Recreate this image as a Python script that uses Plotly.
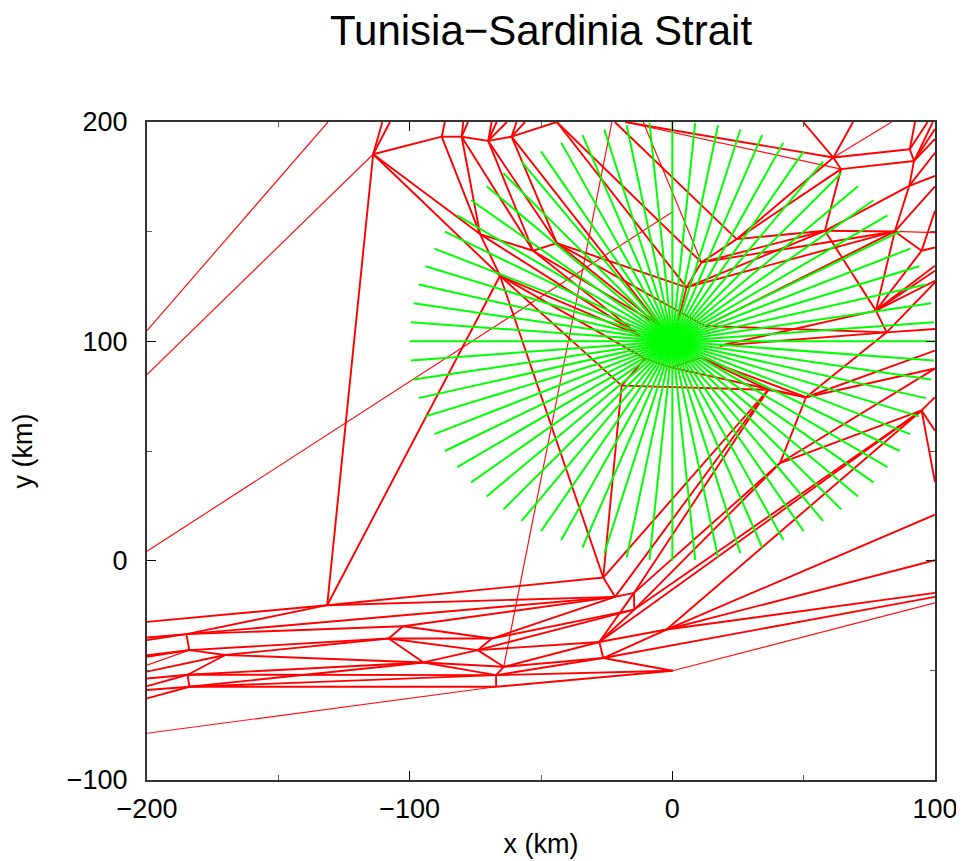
import plotly.graph_objects as go

# Triangulation nodes, in km
nodes = {
 "N1":(-131.4,-20.3),"B":(-185,-33.5),"C":(-183.9,-40.8),"D":(-170.2,-43),"E":(-184.5,-52),"F":(-183.9,-57.5),
 "G":(-102.5,-29.9),"H":(-108,-35.5),"I":(-94.7,-46.4),"J":(-68.7,-35.5),"K":(-74.1,-40.8),"L":(-64.2,-48.4),
 "M":(-67.1,-52.2),"O":(-67.1,-57.5),"P":(-26.3,-7.7),"Q":(-21.8,-16.5),"R":(-14.6,-14.7),"S":(-14.5,-22.3),
 "T":(-27.8,-37.1),"U":(-26.3,-44.4),"V":(-2.2,-31.4),"W":(0.1,-50.2),
 "a":(-113.9,185.3),"b":(-87.8,193.3),"c":(-80.2,193.3),"d":(-70.1,191.4),"e":(-61.2,193.3),"f":(-44,200),
 "g":(-73.2,148.9),"h":(-53,141.3),"i":(-44,144.8),"j":(-65.6,129.9),"k":(11.1,136),"l":(5.4,124.6),"m":(24.5,146.6),
 "n":(58.1,150.4),"o":(84.7,150.1),"p":(61.3,183.8),"q":(64.2,178.5),"r":(90.4,187.6),"s":(92,182.2),"t":(90.2,170.9),
 "u":(94.9,141.3),"v":(77.5,114),"w":(81.6,104.1),
 "x1":(-19.3,79.8),"x2":(36.5,77.9),"x3":(50.9,74.5),"x4":(41,44.5),"x5":(94.9,68.5),
 "z1":(-10.4,92.1),"z2":(-0.2,88),"z3":(10.5,92.6),"z4":(18,98),"z5":(12.4,107),"z6":(-4.7,107),"z7":(-12.3,102.6),"z8":(2.2,109),
 # nodes on the frame
 "L1":(-200,-27.9),"L2":(-200,-35),"L3":(-200,-36.2),"L4":(-200,-43.1),"L5":(-200,-43.8),"L6":(-200,-47.6),
 "L7":(-200,-50.6),"L8":(-200,-53.7),"L9":(-200,-57.2),"L10":(-200,-59),"L11":(-200,-62.8),"L12":(-200,-78.7),
 "L13":(-200,4.3),"L14":(-200,104.9),"L15":(-200,84.8),
 "T1":(-131.1,200),"T2":(-110.4,200),"T3":(-107.5,200),"T4":(-86.6,200),"T5":(-79.6,200),"T6":(-77.8,200),
 "T7":(-68.8,200),"T8":(-66.9,200),"T9":(-63,200),"T10":(-56.1,200),"T11":(-59.3,200),"T12":(-23,200),
 "T13":(-21.9,200),"T14":(-18,200),"T15":(-11.1,200),"T16":(49.8,200),"T17":(68.8,200),"T18":(83.5,200),
 "T19":(92.4,200),"T20":(97.2,200),"T21":(99.2,200),"Y1":(0,159),
 "R1":(100,-14.7),"R2":(100,-16.5),"R3":(100,-19.2),"R4":(100,0.2),"R5":(100,21),"R6":(100,35.8),"R7":(100,59.3),
 "R8":(100,74.5),"R9":(100,87.6),"R10":(100,95.8),"R11":(100,105.6),"R12":(100,126.9),"R13":(100,127.6),
 "R14":(100,132.2),"R15":(100,134.5),"R16":(100,142.8),"R17":(100,149.6),"R18":(100,159.5),"R19":(100,175.4),
 "R20":(100,186),"R21":(100,192.3),"R22":(100,196.8),"R23":(100,170.7),
}

bold_edges = """L1-N1 L2-B L3-B B-N1 B-C B-G B-Q L4-C L5-C C-H C-D D-H L7-D D-E D-I L8-E E-F E-I E-M L9-E L10-F L11-F F-I F-M F-O
G-H G-Q H-I H-J H-K G-J I-K I-L I-M K-J K-L L-M M-O M-U L-U L-T K-T K-S J-S J-Q N1-P N1-Q O-W M-W U-T U-W T-S T-R T-V U-V
V-R1 V-R4 V-R5 U-R2 Q-P Q-R R-S P-x2 Q-x2 R-x2 R-x4 S-x4 S-x5 T-x5 V-x5
a-b b-c c-d d-e e-f a-N1 j-N1 a-g a-j a-T2 a-T3 b-T4 c-T5 c-T6 d-T7 d-T8 d-T9 e-T10 e-T11 b-g g-j j-P c-g c-h d-h d-i e-i
g-h h-i g-z7 j-z7 j-x1 j-z1 h-z6 h-z7 i-z6 i-l e-z6 f-l f-k T13-m i-z5 x1-P x1-x2 x1-z1 z1-z2 z2-z3 z2-x3 z3-x2 z3-x3 x2-x3
x3-x4 x3-R10 x3-R9 x3-w x4-x5 x4-R9 x5-R7 x5-R6 x5-R8 T14-p
m-k k-l l-z8 m-p m-q m-n n-k n-l n-o o-l o-k o-z5 o-t n-q n-t p-q p-r q-s p-T16 p-T17 r-s r-T19 r-T20 s-T21 s-R21 s-R22 t-s
t-R19 t-R20 o-R23 u-R18 o-u u-R16 u-v o-v v-w v-z4 v-R13 v-R14 v-R15 w-z4 w-z5 w-R11 w-R12 n-v"""

thin_edges = """L6-C L12-O W-R3 L13-Y1 T1-L14 a-L15 L-T12 T14-q T15-k o-R17 p-T18"""

# Rays of the fan: bearing end points, in km
ray_center_x = 0
ray_center_y = 100
ray_end_x = [100,99.6,98.5,96.6,94,90.6,86.6,81.9,76.6,70.7,64.3,57.4,50,42.3,34.2,25.9,17.4,8.7,
             0,-8.7,-17.4,-25.9,-34.2,-42.3,-50,-57.4,-64.3,-70.7,-76.6,-81.9,-86.6,-90.6,-94,-96.6,-98.5,-99.6,
             -100,-99.6,-98.5,-96.6,-94,-90.6,-86.6,-81.9,-76.6,-70.7,-64.3,-57.4,-50,-42.3,-34.2,-25.9,-17.4,-8.7,
             0,8.7,17.4,25.9,34.2,42.3,50,57.4,64.3,70.7,76.6,81.9,86.6,90.6,94,96.6,98.5,99.6]
ray_end_y = [100,108.7,117.4,125.9,134.2,142.3,150,157.4,164.3,170.7,176.6,181.9,186.6,190.6,194,196.6,198.5,199.6,
             200,199.6,198.5,196.6,194,190.6,186.6,181.9,176.6,170.7,164.3,157.4,150,142.3,134.2,125.9,117.4,108.7,
             100,91.3,82.6,74.1,65.8,57.7,50,42.6,35.7,29.3,23.4,18.1,13.4,9.4,6,3.4,1.5,0.4,
             0,0.4,1.5,3.4,6,9.4,13.4,18.1,23.4,29.3,35.7,42.6,50,57.7,65.8,74.1,82.6,91.3]

x_major = [-200,-100,0,100]
x_minor = [-150,-50,50]
y_major = [-100,0,100,200]
y_minor = [-50,50,150]
x_labels = ["\u2212200","\u2212100","0","100"]
y_labels = ["\u2212100","0","100","200"]

def edge_xy(text):
    xs, ys = [], []
    for e in text.split():
        p, q = e.split("-")
        xs += [nodes[p][0], nodes[q][0], None]
        ys += [nodes[p][1], nodes[q][1], None]
    return xs, ys

fig = go.Figure()
tx, ty = edge_xy(thin_edges)
fig.add_trace(go.Scatter(x=tx, y=ty, mode="lines", line=dict(color="#ff1010", width=1.2), hoverinfo="skip"))
bx, by = edge_xy(bold_edges)
fig.add_trace(go.Scatter(x=bx, y=by, mode="lines", line=dict(color="#ff0000", width=1.9), hoverinfo="skip"))
gx, gy = [], []
for ex, ey in zip(ray_end_x, ray_end_y):
    gx += [ray_center_x, ex, None]
    gy += [ray_center_y, ey, None]
fig.add_trace(go.Scatter(x=gx, y=gy, mode="lines", line=dict(color="#00ff00", width=2), hoverinfo="skip"))

FS = 27
axis = dict(showgrid=False, zeroline=False, showline=True, linecolor="#333333", linewidth=2, mirror="ticks",
            ticks="inside", ticklen=9, tickcolor="black", tickwidth=1, automargin=False,
            tickfont=dict(family="Liberation Sans", size=FS, color="black"))
W, H = 956, 853
fig.update_layout(
    width=W, height=H, showlegend=False, paper_bgcolor="white", plot_bgcolor="white",
    margin=dict(l=139, r=29, t=114, b=81),
    title=dict(text="Tunisia\u2212Sardinia Strait", x=533/W, xanchor="center", y=1-22/H, yanchor="middle",
               font=dict(family="Liberation Sans", size=42, color="black")),
)
fig.update_xaxes(range=[-200,100], tickvals=x_major, ticktext=x_labels, ticklabelstandoff=4, **axis,
                 title=dict(text="x (km)", standoff=11, font=dict(family="Liberation Sans", size=FS, color="black")),
                 minor=dict(tickvals=x_minor, ticks="inside", ticklen=5, tickcolor="#5a5a5a", tickwidth=1))
fig.update_yaxes(range=[-100,200], tickvals=y_major, ticktext=y_labels, ticklabelstandoff=12, **axis,
                 title=dict(text="y (km)", standoff=27, font=dict(family="Liberation Sans", size=FS, color="black")),
                 minor=dict(tickvals=y_minor, ticks="inside", ticklen=5, tickcolor="#5a5a5a", tickwidth=1))
fig.write_html("out.html")
